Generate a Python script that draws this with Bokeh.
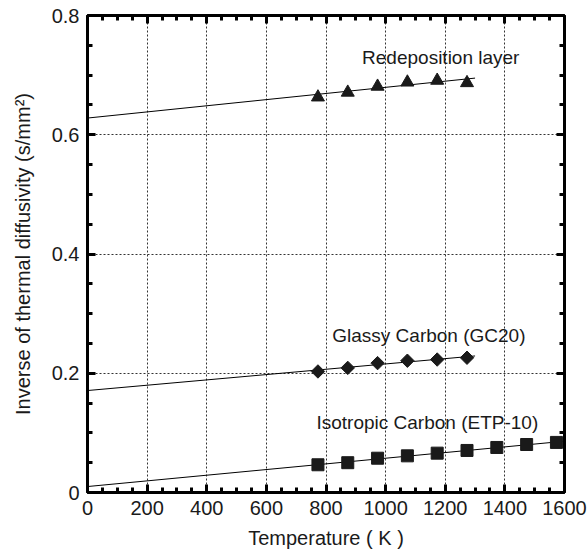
from bokeh.plotting import figure
from bokeh.models import Range1d, FixedTicker, LinearAxis
from bokeh.core.properties import value
from bokeh.embed import file_html
from bokeh.resources import INLINE
import math

# ---- data ----
temp_redep = [773, 873, 973, 1073, 1173, 1273]
inv_redep = [0.663, 0.671, 0.681, 0.688, 0.691, 0.687]

temp_glassy = [773, 873, 973, 1073, 1173, 1273]
inv_glassy = [0.203, 0.209, 0.217, 0.221, 0.223, 0.226]

temp_iso = [773, 873, 973, 1073, 1173, 1273, 1373, 1473, 1573]
inv_iso = [0.0465, 0.050, 0.0575, 0.0615, 0.066, 0.0705, 0.0755, 0.0805, 0.084]

fit_x_redep = [0, 1300]
fit_y_redep = [0.628, 0.695]
fit_x_glassy = [0, 1300]
fit_y_glassy = [0.171, 0.229]
fit_x_iso = [0, 1600]
fit_y_iso = [0.010, 0.086]

x_ticks = [0, 200, 400, 600, 800, 1000, 1200, 1400, 1600]
x_minor = [v for v in range(0, 1601, 50)]
y_ticks = [0, 0.2, 0.4, 0.6, 0.8]
y_tick_labels = ["0", "0.2", "0.4", "0.6", "0.8"]
y_minor = [i * 0.05 for i in range(17)]

labels_text = ["Redeposition layer", "Glassy Carbon (GC20)", "Isotropic Carbon  (ETP-10)"]
labels_x = [921, 821, 768]
labels_y = [0.729, 0.263, 0.118]

FONT = "Liberation Sans"
INK = "#1a1a1a"

p = figure(frame_width=477, frame_height=477,
           min_border_left=87, min_border_top=15, min_border_right=24, min_border_bottom=62,
           x_range=Range1d(0, 1600), y_range=Range1d(0, 0.8),
           output_backend="svg", toolbar_location=None,
           x_axis_label="Temperature ( K )",
           y_axis_label="Inverse of thermal diffusivity (s/mm\u00b2)")
p.background_fill_color = "white"
p.border_fill_color = "white"
p.outline_line_color = "black"
p.outline_line_width = 2

bottom = p.below[0]
left = p.left[0]

xt = FixedTicker(ticks=x_ticks, minor_ticks=x_minor)
yt = FixedTicker(ticks=y_ticks, minor_ticks=y_minor)
bottom.ticker = xt
left.ticker = yt
p.xgrid.ticker = FixedTicker(ticks=x_ticks)
p.ygrid.ticker = FixedTicker(ticks=y_ticks)
left.major_label_overrides = {t: s for t, s in zip(y_ticks, y_tick_labels)}

for g in (p.xgrid[0], p.ygrid[0]):
    g.grid_line_color = "#333333"
    g.grid_line_dash = "2 2"
    g.grid_line_width = 1

top = LinearAxis(ticker=xt)
right = LinearAxis(ticker=yt)
top.major_label_overrides = {t: "" for t in x_ticks}
right.major_label_overrides = {t: "" for t in y_ticks}
p.add_layout(top, "above")
p.add_layout(right, "right")

for ax in (bottom, left, top, right):
    ax.axis_line_width = 3
    ax.axis_line_color = "black"
    ax.major_tick_in = 8
    ax.major_tick_out = 0
    ax.minor_tick_in = 5
    ax.minor_tick_out = 0
    ax.major_tick_line_width = 3
    ax.minor_tick_line_width = 3
    ax.major_tick_line_color = "black"
    ax.minor_tick_line_color = "black"
    ax.major_label_text_font = FONT
    ax.major_label_text_font_size = "20px"
    ax.major_label_text_color = INK
    ax.axis_label_text_font = FONT
    ax.axis_label_text_font_size = "20px"
    ax.axis_label_text_font_style = "normal"
    ax.axis_label_text_color = INK

for ax in (top, right):
    ax.major_label_standoff = 0

bottom.major_label_standoff = 8
bottom.axis_label_standoff = 9
left.major_label_standoff = 8
left.axis_label_standoff = 15

# fit lines
p.line(fit_x_redep, fit_y_redep, line_color="black", line_width=1)
p.line(fit_x_glassy, fit_y_glassy, line_color="black", line_width=1)
p.line(fit_x_iso, fit_y_iso, line_color="black", line_width=1)

# markers
p.scatter(temp_redep, inv_redep, marker="triangle", size=13, fill_color=INK, line_color=INK)
p.scatter(temp_glassy, inv_glassy, marker="square", size=9.5, angle=math.pi / 4,
          fill_color=INK, line_color=INK)
p.scatter(temp_iso, inv_iso, marker="square", size=12, fill_color=INK, line_color=INK)

p.text(x=labels_x, y=labels_y, text=labels_text, text_font=value(FONT),
       text_font_size="19px", text_color=INK, text_align="left", text_baseline="middle")

open("out.html", "w").write(file_html(p, INLINE))
